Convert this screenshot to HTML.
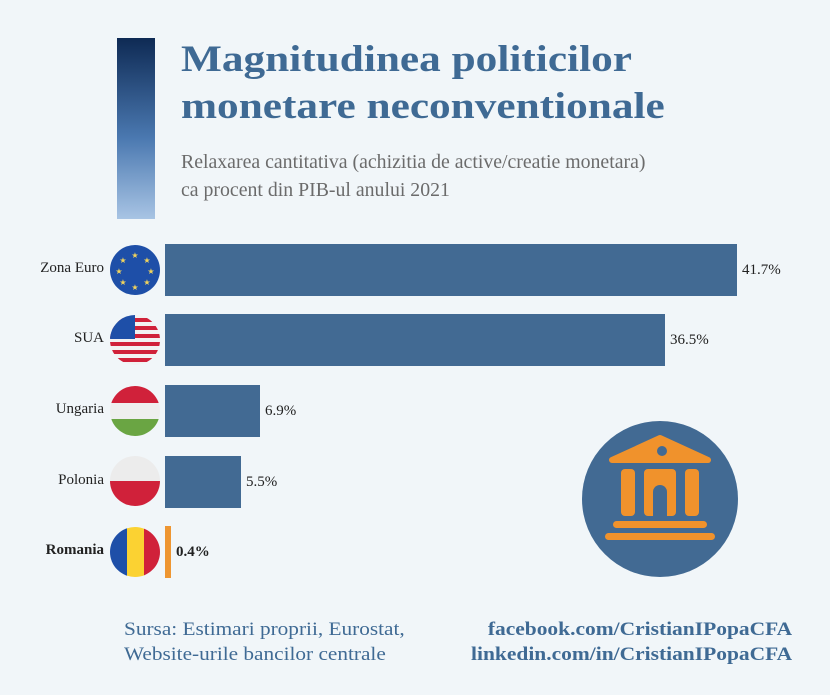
<!DOCTYPE html>
<html><head><meta charset="utf-8"><style>
body{margin:0;width:830px;height:695px;background:#f1f6f9;position:relative;overflow:hidden;font-family:"Liberation Serif",serif}
.a{position:absolute}
.bar{position:absolute;left:165px;height:52px;background:#426a93}
.lab{position:absolute;right:726px;font-size:15px;color:#222;text-align:right}
.val{position:absolute;font-size:15px;color:#222}
</style></head><body>
<div class="a" style="left:117px;top:38px;width:38px;height:181px;background:linear-gradient(#0e2a54,#4a78b0 55%,#a8c4e4)"></div>
<div class="a" style="left:181px;top:36px;font-size:37px;font-weight:bold;color:#3f6a94;line-height:47px;transform:scaleX(1.17);transform-origin:0 0;white-space:nowrap">Magnitudinea politicilor<br>monetare neconventionale</div>
<div class="a" style="left:181px;top:148px;font-size:20px;color:#6b6b6b;line-height:28px;transform:scaleX(0.99);transform-origin:0 0;white-space:nowrap">Relaxarea cantitativa (achizitia de active/creatie monetara)<br>ca procent din PIB-ul anului 2021</div>

<div class="lab" style="top:260px">Zona Euro</div>
<div class="lab" style="top:330px">SUA</div>
<div class="lab" style="top:401px">Ungaria</div>
<div class="lab" style="top:472px">Polonia</div>
<div class="lab" style="top:542px;font-weight:bold">Romania</div>

<svg class="a" style="left:0;top:0" width="830" height="695">
<defs>
<clipPath id="c2"><circle cx="135" cy="340" r="25"/></clipPath>
<clipPath id="c3"><circle cx="135" cy="411" r="25"/></clipPath>
<clipPath id="c4"><circle cx="135" cy="481" r="25"/></clipPath>
<clipPath id="c5"><circle cx="135" cy="552" r="25"/></clipPath>
</defs>
<circle cx="135" cy="270" r="25" fill="#1e4fa8"/>
<g fill="#f2d45c" font-size="8" text-anchor="middle">
<text x="135" y="258">★</text><text x="135" y="290">★</text><text x="119" y="274">★</text><text x="151" y="274">★</text>
<text x="123" y="263">★</text><text x="147" y="263">★</text><text x="123" y="285">★</text><text x="147" y="285">★</text>
</g>
<g clip-path="url(#c2)">
<rect x="110" y="315" width="50" height="50" fill="#f2f2f2"/>
<g fill="#d0213a"><rect x="110" y="318" width="50" height="4"/><rect x="110" y="326" width="50" height="4"/><rect x="110" y="334" width="50" height="4"/><rect x="110" y="342" width="50" height="4"/><rect x="110" y="350" width="50" height="4"/><rect x="110" y="358" width="50" height="4"/></g>
<rect x="110" y="315" width="25" height="24" fill="#1e4fa8"/>
</g>
<g clip-path="url(#c3)"><rect x="110" y="386" width="50" height="17" fill="#d0213a"/><rect x="110" y="403" width="50" height="16" fill="#efefef"/><rect x="110" y="419" width="50" height="17" fill="#6aa543"/></g>
<g clip-path="url(#c4)"><rect x="110" y="456" width="50" height="25" fill="#ececec"/><rect x="110" y="481" width="50" height="25" fill="#d0213a"/></g>
<g clip-path="url(#c5)"><rect x="110" y="527" width="17" height="50" fill="#1e4fa8"/><rect x="127" y="527" width="17" height="50" fill="#fbd232"/><rect x="144" y="527" width="16" height="50" fill="#d0213a"/></g>

<circle cx="660" cy="499" r="78" fill="#426a93"/>
<g fill="#f0922c">
<path d="M612 460 L660 438 L708 460 Z" stroke="#f0922c" stroke-width="6" stroke-linejoin="round"/>
<rect x="621" y="469" width="14" height="47" rx="4"/>
<rect x="644" y="469" width="32" height="47" rx="4"/>
<rect x="685" y="469" width="14" height="47" rx="4"/>
<rect x="613" y="521" width="94" height="7" rx="3.5"/>
<rect x="605" y="533" width="110" height="7" rx="3.5"/>
</g>
<circle cx="662" cy="451" r="5" fill="#426a93"/>
<path d="M653 516 V492 a7 7 0 0 1 14 0 V516 Z" fill="#426a93"/>
</svg>

<div class="bar" style="top:244px;width:572px"></div>
<div class="bar" style="top:314px;width:500px"></div>
<div class="bar" style="top:385px;width:95px"></div>
<div class="bar" style="top:456px;width:76px"></div>
<div class="bar" style="top:526px;width:6px;background:#ee9632"></div>

<div class="val" style="left:742px;top:262px">41.7%</div>
<div class="val" style="left:670px;top:332px">36.5%</div>
<div class="val" style="left:265px;top:403px">6.9%</div>
<div class="val" style="left:246px;top:474px">5.5%</div>
<div class="val" style="left:176px;top:544px;font-weight:bold">0.4%</div>

<div class="a" style="left:124px;top:617px;font-size:19px;color:#3f6a94;line-height:25px;transform:scaleX(1.12);transform-origin:0 0;white-space:nowrap">Sursa: Estimari proprii, Eurostat,<br>Website-urile bancilor centrale</div>
<div class="a" style="right:38px;top:617px;font-size:19px;font-weight:bold;color:#3f6a94;line-height:25px;text-align:right;transform:scaleX(1.13);transform-origin:100% 0;white-space:nowrap">facebook.com/CristianIPopaCFA<br>linkedin.com/in/CristianIPopaCFA</div>
</body></html>
